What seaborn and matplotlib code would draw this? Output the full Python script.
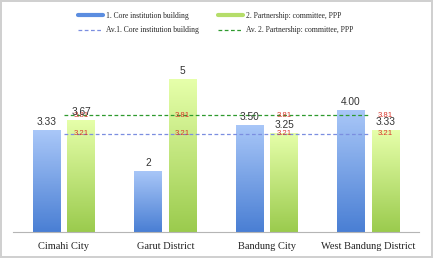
import numpy as np
import pandas as pd
import matplotlib.pyplot as plt
import matplotlib.colors as mcolors
from matplotlib.lines import Line2D
import seaborn as sns

regions = ["Cimahi City", "Garut District", "Bandung City", "West Bandung District"]
series = ["1. Core institution building", "2. Partnership: committee, PPP"]
avg_names = ["Av.1. Core institution building", "Av. 2. Partnership: committee, PPP"]
core = [3.33, 2, 3.50, 4.00]
partner = [3.67, 5, 3.25, 3.33]
core_labels = ["3.33", "2", "3.50", "4.00"]
partner_labels = ["3.67", "5", "3.25", "3.33"]

df = pd.DataFrame({
    "region": regions * 2,
    "series": [series[0]] * len(core) + [series[1]] * len(partner),
    "value": core + partner,
})
av_core = round(float(np.mean(core)), 2)
av_partner = round(float(np.mean(partner)), 2)

sns.set_style("white")
plt.rcParams["font.family"] = ["Liberation Serif", "DejaVu Serif"]

fig = plt.figure(figsize=(4.33, 2.58), dpi=100, edgecolor="#d0d0d0", linewidth=1.5)
ax = fig.add_axes([0.030, 0.101, 0.938, 0.711])

sns.barplot(data=df, x="region", y="value", hue="series",
            palette=["#6f9ae6", "#b8e070"], width=0.68, gap=0.2,
            legend=False, ax=ax)

# gradient fill on each bar (light top, darker bottom)
grad = np.linspace(0, 1, 100).reshape(-1, 1)
cmaps = [
    mcolors.LinearSegmentedColormap.from_list("blue", ["#4a7fd4", "#a9c7f8"]),
    mcolors.LinearSegmentedColormap.from_list("green", ["#9bcb4e", "#e6ffaa"]),
]
for cont, cmap in zip(ax.containers, cmaps):
    for bar in cont:
        x0, y0 = bar.get_x(), bar.get_y()
        w, h = bar.get_width(), bar.get_height()
        im = ax.imshow(grad, extent=[x0, x0 + w, y0, y0 + h], origin="lower",
                       cmap=cmap, aspect="auto", zorder=bar.get_zorder() + 0.1)
        im.set_clip_path(bar)

# average lines
xs = np.arange(len(regions))
sns.lineplot(x=xs, y=[av_partner] * len(regions), color="#2e9a2e", lw=0.9,
             linestyle=(0, (3, 2)), ax=ax, zorder=5)
sns.lineplot(x=xs, y=[av_core] * len(regions), color="#7b8ee0", lw=0.9,
             linestyle=(0, (3, 2)), ax=ax, zorder=5)

for bar in ax.containers[1]:
    cx = bar.get_x() + bar.get_width() / 2
    for av in (av_partner, av_core):
        ax.text(cx, av, f"{av:.2f}", color="#d9352a", fontsize=5.6,
                ha="center", va="center", family="Liberation Sans", zorder=6)

ax.bar_label(ax.containers[0], labels=core_labels, padding=2, fontsize=7.3,
             family="Liberation Sans", color="#333333", zorder=7)
ax.bar_label(ax.containers[1], labels=partner_labels, padding=2, fontsize=7.3,
             family="Liberation Sans", color="#333333", zorder=7)

ax.set_xlim(-0.5, len(regions) - 0.5)
ax.set_ylim(0, 6)
ax.set_xlabel("")
ax.set_ylabel("")
ax.set_yticks([])
ax.tick_params(axis="x", length=0, pad=7, labelsize=7.5, colors="#222222")
for s in ["left", "right", "top"]:
    ax.spines[s].set_visible(False)
ax.spines["bottom"].set_color("#b5b5b5")
ax.spines["bottom"].set_linewidth(0.8)

handles = [
    Line2D([0], [0], color="#5b8de0", lw=3),
    Line2D([0], [0], color="#7b8ee0", lw=0.9, linestyle=(0, (3, 2))),
    Line2D([0], [0], color="#b5dd6a", lw=3),
    Line2D([0], [0], color="#2e9a2e", lw=0.9, linestyle=(0, (3, 2))),
]
labels = [series[0], avg_names[0], series[1], avg_names[1]]
fig.legend(handles, labels, ncol=2, loc="center", bbox_to_anchor=(0.498, 1 - 23 / 258),
           frameon=False, fontsize=5.5, handlelength=3.3, columnspacing=2.4,
           labelspacing=0.85, handletextpad=0.45)

fig.savefig("out.png", dpi=100)
